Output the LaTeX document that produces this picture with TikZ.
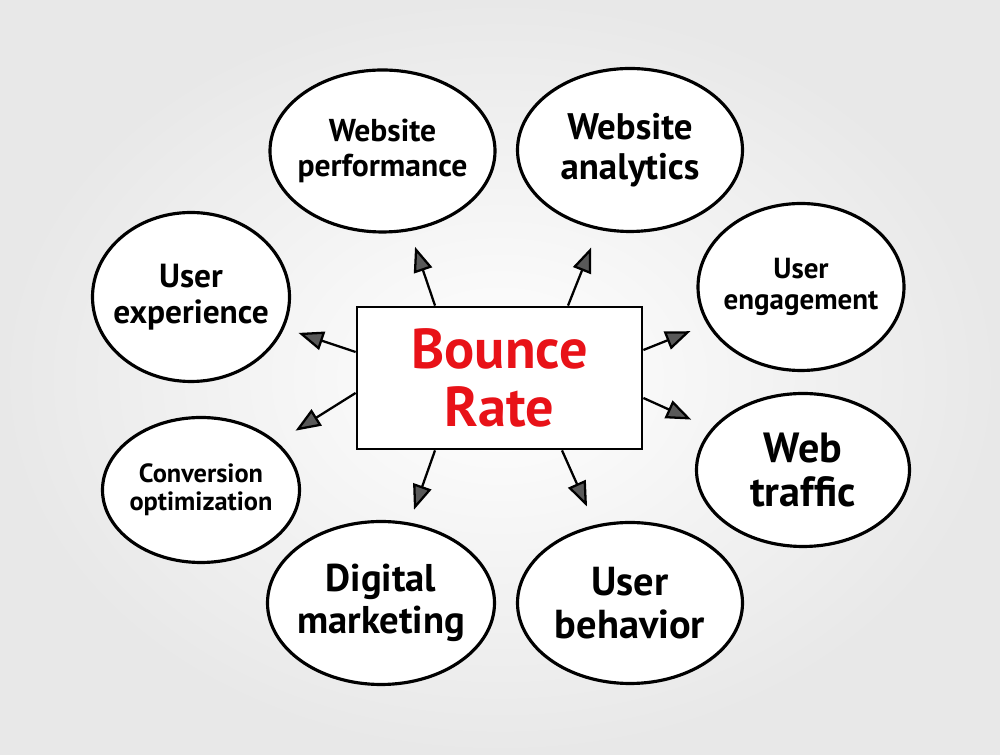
\documentclass[tikz,border=0pt]{standalone}
\usepackage{fontspec}
\setmainfont{PT Sans}
\usetikzlibrary{shapes.geometric,arrows.meta}
\definecolor{bouncered}{RGB}{232,18,24}
\tikzset{
  bubble/.style={draw,ellipse,line width=1.8pt,fill=white,inner xsep=-0.6cm,inner ysep=-0.4cm,align=center},
  link/.style={line width=1.3pt,-{Triangle[length=0.5cm,width=0.38cm,fill=black!65]}}
}

\begin{document}
\begin{tikzpicture}
\useasboundingbox (0,0) rectangle (20,15.1);
\shade[inner color=white,outer color=gray!18] (0,0) rectangle (20,15.1);

\node[draw,line width=1.6pt,fill=white,minimum width=5.7cm,minimum height=2.84cm,align=center,
  text=bouncered,font=\bfseries\fontsize{32}{33}\selectfont] (bounce) at (9.99,7.54) {Bounce\\Rate};

\node[bubble,minimum width=4.5cm,minimum height=3.24cm,font=\bfseries\fontsize{18}{19.5}\selectfont] (wperf) at (7.65,12.08) {Website\\performance};
\node[bubble,minimum width=4.5cm,minimum height=3.26cm,font=\bfseries\fontsize{21}{22.5}\selectfont] (wanaly) at (12.6,12.1) {Website\\analytics};
\node[bubble,minimum width=4.12cm,minimum height=3.34cm,font=\bfseries\fontsize{16.5}{17.5}\selectfont] (ueng) at (16.02,9.36) {User\\engagement};
\node[bubble,minimum width=4.26cm,minimum height=3.06cm,font=\bfseries\fontsize{24}{25}\selectfont] (wtraf) at (16.06,5.7) {Web\\traffic};
\node[bubble,minimum width=4.5cm,minimum height=3.22cm,font=\bfseries\fontsize{23}{24.5}\selectfont] (ubeh) at (12.6,3.04) {User\\behavior};
\node[bubble,minimum width=4.54cm,minimum height=3.26cm,font=\bfseries\fontsize{22}{23.5}\selectfont] (dmark) at (7.62,3.04) {Digital\\marketing};
\node[bubble,minimum width=3.94cm,minimum height=2.9cm,font=\bfseries\fontsize{15}{16}\selectfont] (conv) at (4.02,5.3) {Conversion\\optimization};
\node[bubble,minimum width=3.94cm,minimum height=3.38cm,font=\bfseries\fontsize{19}{20.5}\selectfont] (uexp) at (3.82,9.16) {User\\experience};

\draw[link,shorten >=0.33cm] ([xshift=-1.29cm]bounce.north) -- (wperf);
\draw[link,shorten >=0.38cm] ([xshift=1.37cm]bounce.north) -- (wanaly);
\draw[link,shorten >=0.36cm] ([yshift=0.56cm]bounce.east) -- (ueng);
\draw[link,shorten >=0.44cm] ([yshift=-0.4cm]bounce.east) -- (wtraf);
\draw[link,shorten >=0.4cm] ([xshift=1.25cm]bounce.south) -- (ubeh);
\draw[link,shorten >=0.27cm] ([xshift=-1.29cm]bounce.south) -- (dmark);
\draw[link,shorten >=0.43cm] ([yshift=-0.3cm]bounce.west) -- (conv);
\draw[link,shorten >=0.3cm] ([yshift=0.52cm]bounce.west) -- (uexp);
\end{tikzpicture}
\end{document}
